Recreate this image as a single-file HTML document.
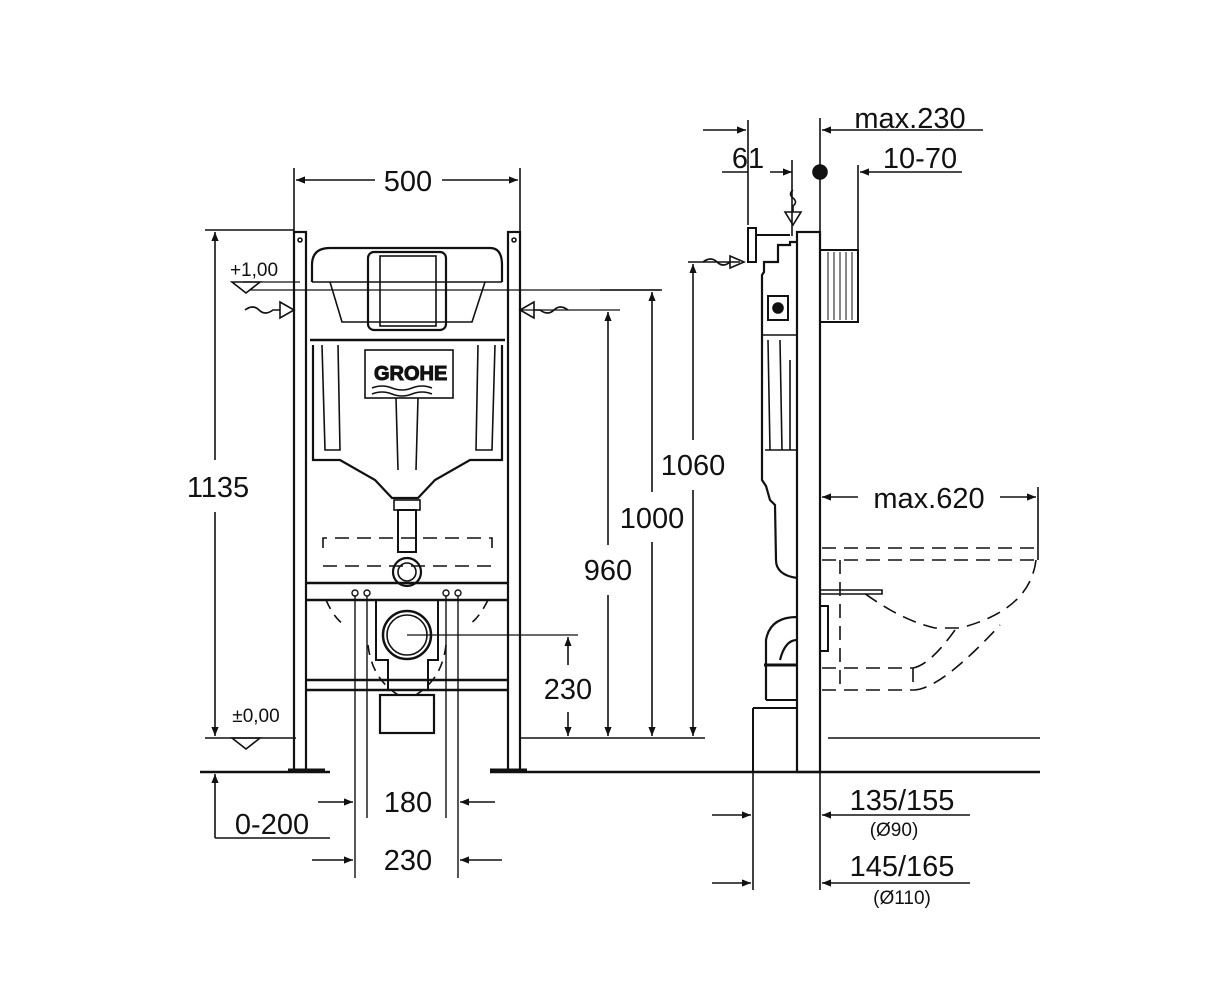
<!DOCTYPE html>
<html><head><meta charset="utf-8"><style>
html,body{margin:0;padding:0;background:#fff}
svg{display:block}
text{font-family:"Liberation Sans",Arial,sans-serif;fill:#111}
</style></head><body>
<svg width="1223" height="1000" viewBox="0 0 1223 1000" xmlns="http://www.w3.org/2000/svg">
<defs>
<marker id="a" viewBox="0 0 10 10" refX="10" refY="5" markerWidth="18" markerHeight="9" orient="auto-start-reverse" markerUnits="userSpaceOnUse"><path d="M0,1 L10,5 L0,9 z" fill="#111"/></marker>
</defs>
<g stroke="#111" fill="none" stroke-width="1.6">
<line x1="200" y1="772" x2="330" y2="772" stroke-width="2.5"/>
<line x1="490" y1="772" x2="1040" y2="772" stroke-width="2.5"/>
<line x1="205" y1="738" x2="296" y2="738"/>
<line x1="520" y1="738" x2="705" y2="738"/>
<line x1="828" y1="738" x2="1040" y2="738"/>
<rect x="294" y="232" width="12" height="538" stroke-width="2.2"/>
<rect x="508" y="232" width="12" height="538" stroke-width="2.2"/>
<line x1="288" y1="770" x2="325" y2="770" stroke-width="3"/>
<line x1="490" y1="770" x2="527" y2="770" stroke-width="3"/>
<circle cx="300" cy="240" r="2"/><circle cx="514" cy="240" r="2"/>
<path d="M312,282 L312,265 Q312,248 330,248 L490,248 Q502,248 502,265 L502,282" stroke-width="2.2"/>
<line x1="312" y1="282" x2="502" y2="282" />
<path d="M330,282 L342,322 L472,322 L485,282"/>
<rect x="368" y="252" width="78" height="78" rx="6" stroke-width="2.2"/>
<rect x="380" y="256" width="56" height="70"/>
<line x1="310" y1="340" x2="505" y2="340" stroke-width="2.5"/>
<path d="M313,345 L313,460 L340,460 L375,480 L392,498 L418,498 L435,480 L470,460 L502,460 L502,345" stroke-width="2.2"/>
<rect x="365" y="350" width="88" height="48"/>
<text x="374" y="380" font-size="20" font-weight="bold" fill="none" stroke="#111" stroke-width="1">GROHE</text>
<path d="M372,388 q10,-4 20,0 t20,0 t20,0 M372,394 q10,-4 20,0 t20,0 t20,0" />
<line x1="396" y1="398" x2="398" y2="470"/><line x1="418" y1="398" x2="416" y2="470"/>
<path d="M322,345 L325,450 L340,450 L338,345 M478,345 L476,450 L492,450 L495,345"/>
<rect x="394" y="500" width="26" height="10"/>
<rect x="398" y="510" width="18" height="42" stroke-width="2"/>
<circle cx="407" cy="572" r="14" stroke-width="2.2"/><circle cx="407" cy="572" r="9"/>
<line x1="306" y1="583" x2="508" y2="583" stroke-width="2.5"/>
<line x1="306" y1="600" x2="508" y2="600" stroke-width="2.5"/>
<line x1="306" y1="680" x2="508" y2="680" stroke-width="2.5"/>
<line x1="306" y1="690" x2="508" y2="690" stroke-width="2.5"/>
<path d="M376,600 L376,660 L388,660 L388,690 M438,600 L438,660 L428,660 L428,690" stroke-width="2"/>
<circle cx="407" cy="635" r="24" stroke-width="2.5"/><circle cx="407" cy="635" r="20"/>
<rect x="380" y="695" width="54" height="38" stroke-width="2.2"/>
<path d="M323,548 L323,538 L492,538 L492,548 M323,566 L492,566" stroke-dasharray="14,8"/>
<path d="M326,600 Q335,620 345,625 M488,600 Q478,620 468,625 M368,645 Q372,680 400,696 M446,645 Q442,680 414,696" stroke-dasharray="10,7"/>
<g stroke-width="1.4">
<circle cx="355" cy="593" r="3"/><circle cx="367" cy="593" r="3"/><circle cx="446" cy="593" r="3"/><circle cx="458" cy="593" r="3"/>
<line x1="355" y1="596" x2="355" y2="878"/><line x1="367" y1="596" x2="367" y2="818"/>
<line x1="446" y1="596" x2="446" y2="818"/><line x1="458" y1="596" x2="458" y2="878"/>
</g>
<line x1="250" y1="290" x2="660" y2="290" stroke-width="1.2"/>
<line x1="243" y1="282" x2="300" y2="282" stroke-width="1.2"/>
<path d="M232,282 L260,282 L246,293 z"/>
<path d="M280,302 L294,310 L280,318 z M245,310 q8,-6 14,0 t14,0 L280,310"/>
<path d="M534,302 L520,310 L534,318 z M568,310 q-8,-6 -14,0 t-14,0 L534,310"/>
<line x1="520" y1="310" x2="620" y2="310" stroke-width="1.2"/>
<path d="M232,738 L260,738 L246,749 z"/>
<line x1="407" y1="635" x2="578" y2="635" stroke-width="1.2"/>
<line x1="294" y1="168" x2="294" y2="232"/><line x1="520" y1="168" x2="520" y2="232"/>
<line x1="296" y1="180" x2="375" y2="180" marker-start="url(#a)"/><line x1="442" y1="180" x2="518" y2="180" marker-end="url(#a)"/>
<line x1="205" y1="230" x2="294" y2="230"/>
<line x1="215" y1="232" x2="215" y2="460" marker-start="url(#a)"/><line x1="215" y1="512" x2="215" y2="736" marker-end="url(#a)"/>
<line x1="688" y1="262" x2="740" y2="262"/>
<line x1="693" y1="264" x2="693" y2="440" marker-start="url(#a)"/><line x1="693" y1="490" x2="693" y2="736" marker-end="url(#a)"/>
<line x1="600" y1="290" x2="662" y2="290"/>
<line x1="652" y1="292" x2="652" y2="492" marker-start="url(#a)"/><line x1="652" y1="542" x2="652" y2="736" marker-end="url(#a)"/>
<line x1="608" y1="312" x2="608" y2="545" marker-start="url(#a)"/><line x1="608" y1="595" x2="608" y2="736" marker-end="url(#a)"/>
<line x1="568" y1="637" x2="568" y2="665" marker-start="url(#a)"/><line x1="568" y1="712" x2="568" y2="736" marker-end="url(#a)"/>
<line x1="318" y1="802" x2="353" y2="802" marker-end="url(#a)"/><line x1="495" y1="802" x2="460" y2="802" marker-end="url(#a)"/>
<line x1="312" y1="860" x2="353" y2="860" marker-end="url(#a)"/><line x1="502" y1="860" x2="460" y2="860" marker-end="url(#a)"/>
<line x1="215" y1="838" x2="215" y2="774" marker-end="url(#a)"/><line x1="215" y1="838" x2="330" y2="838"/>
<rect x="797" y="232" width="23" height="540" stroke-width="2.2"/>
<rect x="820" y="250" width="38" height="72" stroke-width="2"/>
<g stroke-width="1"><line x1="828" y1="252" x2="828" y2="320"/><line x1="834" y1="252" x2="834" y2="320"/><line x1="840" y1="252" x2="840" y2="320"/><line x1="846" y1="252" x2="846" y2="320"/><line x1="852" y1="252" x2="852" y2="320"/></g>
<path d="M797,242 L790,242 L790,245 L778,245 L778,262 L764,262 L764,272 L762,275 L762,480 L766,486 L770,500 L775,505 L776,560 Q776,575 797,578" stroke-width="2.2"/>
<rect x="768" y="296" width="20" height="24" stroke-width="2"/><circle cx="778" cy="308" r="5" fill="#111"/>
<line x1="762" y1="335" x2="797" y2="335"/>
<path d="M768,340 L770,450 M780,340 L782,450 M790,360 L790,450 M765,450 L797,450"/>
<path d="M748,228 L756,228 L756,262 L748,262 z" stroke-width="2"/>
<line x1="756" y1="235" x2="790" y2="235" stroke-width="2"/>
<path d="M785,212 L801,212 L793,225 z"/><path d="M793,190 q-5,4 0,8 q5,4 0,8 L793,212"/>
<path d="M730,256 L744,262 L730,268 z"/><path d="M703,262 q8,-6 14,0 t13,0"/>
<path d="M797,617 Q770,617 766,640 L766,700 M797,640 Q785,640 780,660" stroke-width="2.2"/>
<line x1="764" y1="665" x2="797" y2="665" stroke-width="3"/>
<path d="M753,708 L753,772 M766,700 L797,700 M753,708 L797,708" stroke-width="2"/>
<rect x="820" y="606" width="8" height="45" stroke-width="2"/>
<path d="M820,590 L882,590 L882,594 L820,594"/>
<g stroke-dasharray="14,8">
<path d="M822,548 L1036,548 M822,560 L1036,560"/>
<path d="M1036,560 Q1030,610 960,628 L935,628 Q900,620 860,590"/>
<path d="M822,668 L913,668 M822,690 L913,690 M840,560 L840,690 M913,668 L913,690"/>
<path d="M913,668 Q930,665 955,630 M913,690 Q940,690 1000,625"/>
</g>
<line x1="748" y1="120" x2="748" y2="225"/>
<line x1="703" y1="130" x2="746" y2="130" marker-end="url(#a)"/>
<line x1="820" y1="118" x2="820" y2="232"/><line x1="858" y1="165" x2="858" y2="250"/>
<line x1="822" y1="130" x2="983" y2="130" marker-start="url(#a)"/>
<line x1="722" y1="172" x2="748" y2="172"/>
<line x1="770" y1="172" x2="792" y2="172" marker-end="url(#a)"/>
<line x1="792" y1="160" x2="792" y2="236"/>
<line x1="860" y1="172" x2="962" y2="172" marker-start="url(#a)"/>
<circle cx="820" cy="172" r="7" fill="#111"/>
<line x1="822" y1="497" x2="858" y2="497" marker-start="url(#a)"/><line x1="1000" y1="497" x2="1036" y2="497" marker-end="url(#a)"/>
<line x1="1038" y1="487" x2="1038" y2="560"/>
<line x1="753" y1="772" x2="753" y2="890"/><line x1="820" y1="772" x2="820" y2="890"/>
<line x1="712" y1="815" x2="751" y2="815" marker-end="url(#a)"/><line x1="970" y1="815" x2="822" y2="815" marker-end="url(#a)"/>
<line x1="712" y1="883" x2="751" y2="883" marker-end="url(#a)"/><line x1="970" y1="883" x2="822" y2="883" marker-end="url(#a)"/>
</g>
<g font-size="29" text-anchor="middle">
<text x="408" y="191">500</text>
<text x="218" y="497">1135</text>
<text x="693" y="475">1060</text>
<text x="652" y="528">1000</text>
<text x="608" y="580">960</text>
<text x="568" y="699">230</text>
<text x="408" y="812">180</text>
<text x="408" y="870">230</text>
<text x="272" y="834">0-200</text>
<text x="910" y="128">max.230</text>
<text x="748" y="168">61</text>
<text x="920" y="168">10-70</text>
<text x="929" y="508">max.620</text>
<text x="902" y="810">135/155</text>
<text x="902" y="876">145/165</text>
</g>
<g font-size="19" text-anchor="middle">
<text x="254" y="276">+1,00</text>
<text x="256" y="722">±0,00</text>
<text x="894" y="836">(Ø90)</text>
<text x="902" y="904">(Ø110)</text>
</g>
</svg>
</body></html>
